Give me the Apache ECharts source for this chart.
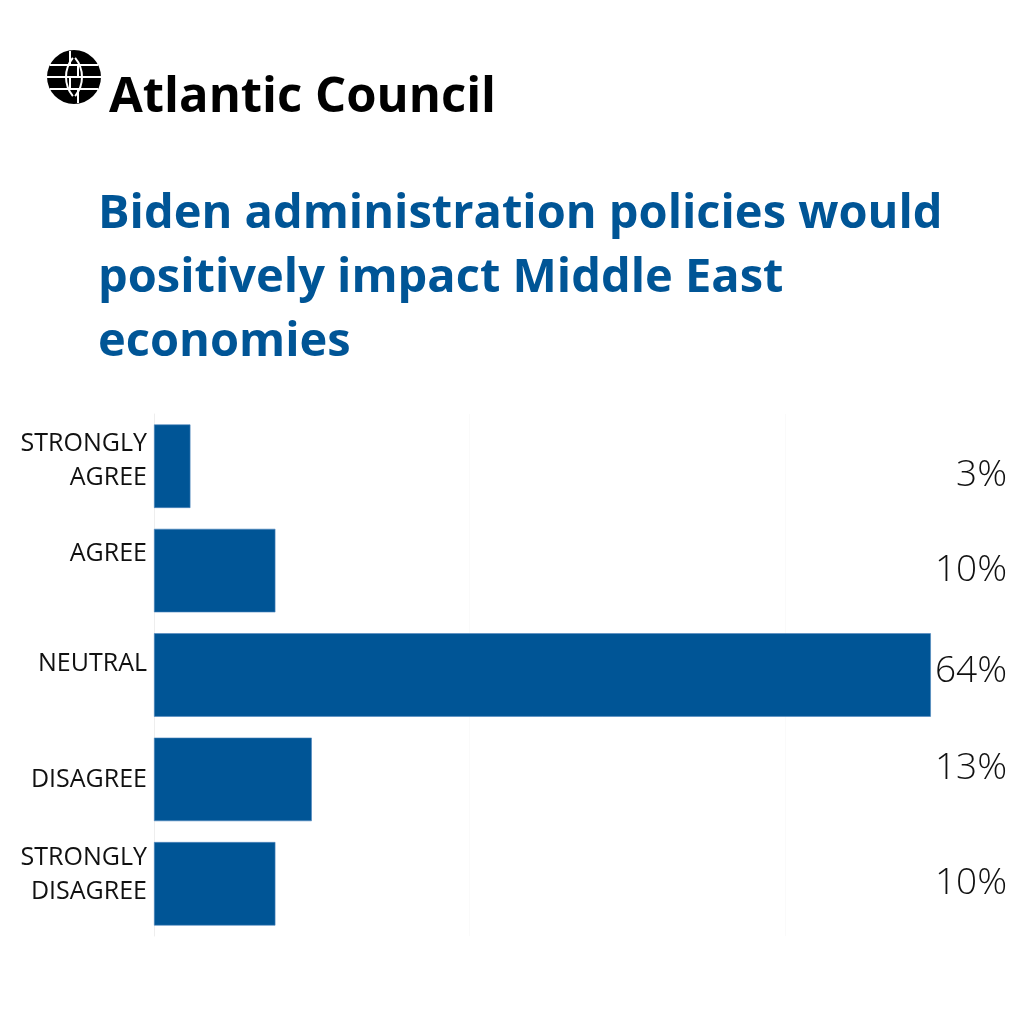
<!DOCTYPE html>
<html>
<head>
<meta charset="utf-8">
<script src="https://cdn.jsdelivr.net/npm/echarts@6/dist/echarts.min.js"></script>
<style>
html,body{margin:0;padding:0;background:#fff;}
#chart{width:1024px;height:1020px;}
</style>
</head>
<body>
<div id="chart"></div>
<script>
const categories = ['STRONGLY\nAGREE', 'AGREE', 'NEUTRAL', 'DISAGREE', 'STRONGLY\nDISAGREE'];
const values = [3, 10, 64, 13, 10];
const valueLabels = ['3%', '10%', '64%', '13%', '10%'];
const titleText = 'Biden administration policies would\npositively impact Middle East\neconomies';
const brandText = 'Atlantic Council';

const chart = echarts.init(document.getElementById('chart'));
const font = '"Open Sans", Lato, sans-serif';
const blue = '#005596';

// label nudges (style only): rich token names per row
const leftStyle = ['g10', 'up17', 'up11', '', 'g18'];
const rightStyle = ['dn9', '', 'up4', 'up11', ''];
function richSet(fs, weight, lh) {
  const base = { fontFamily: font, fontSize: fs, fontWeight: weight, color: '#111', lineHeight: lh };
  return {
    n: Object.assign({}, base),
    up17: Object.assign({ padding: [0, 0, 34, 0] }, base),
    up11: Object.assign({ padding: [0, 0, 22, 0] }, base),
    up4: Object.assign({ padding: [0, 0, 8, 0] }, base),
    dn9: Object.assign({ padding: [18, 0, 0, 0] }, base),
    g10: { fontSize: 1, lineHeight: 10 },
    g18: { fontSize: 1, lineHeight: 18 }
  };
}
function fmt(styles) {
  return (v, i) => {
    const s = styles[i];
    if (!s) return v;
    const lines = String(v).split('\n');
    if (s.charAt(0) === 'g') {
      return lines.map(ln => '{n|' + ln + '}').join('\n') + '\n{' + s + '| }';
    }
    return '{' + s + '|' + v + '}';
  };
}

const cx = 74, cy = 77, r = 27;
const globe = [
  { type: 'circle', shape: { cx: cx, cy: cy, r: r }, style: { fill: '#000' } },
  { type: 'line', shape: { x1: cx - 24, y1: cy - 12, x2: cx + 24, y2: cy - 12 }, style: { stroke: '#fff', lineWidth: 2 } },
  { type: 'line', shape: { x1: cx - 27, y1: cy, x2: cx + 27, y2: cy }, style: { stroke: '#fff', lineWidth: 2 } },
  { type: 'line', shape: { x1: cx - 24, y1: cy + 12, x2: cx + 24, y2: cy + 12 }, style: { stroke: '#fff', lineWidth: 2 } },
  { type: 'arc', shape: { cx: cx + 22, cy: cy, r: 30, startAngle: Math.PI * 0.78, endAngle: Math.PI * 1.22 }, style: { stroke: '#fff', lineWidth: 2, fill: null } },
  { type: 'arc', shape: { cx: cx - 22, cy: cy, r: 30, startAngle: -Math.PI * 0.22, endAngle: Math.PI * 0.22 }, style: { stroke: '#fff', lineWidth: 2, fill: null } },
  { type: 'line', shape: { x1: cx - 4, y1: cy - 26, x2: cx - 4, y2: cy - 12 }, style: { stroke: '#fff', lineWidth: 2 } },
  { type: 'line', shape: { x1: cx + 4, y1: cy + 12, x2: cx + 4, y2: cy + 26 }, style: { stroke: '#fff', lineWidth: 2 } },
  { type: 'line', shape: { x1: cx + 4, y1: cy - 12, x2: cx + 4, y2: cy }, style: { stroke: '#fff', lineWidth: 2 } },
  { type: 'line', shape: { x1: cx - 4, y1: cy, x2: cx - 4, y2: cy + 12 }, style: { stroke: '#fff', lineWidth: 2 } }
];

chart.setOption({
  backgroundColor: '#ffffff',
  animation: false,
  title: {
    text: titleText,
    left: 93,
    top: 178,
    textStyle: { fontFamily: font, fontWeight: 'bold', fontSize: 47, lineHeight: 64, color: blue }
  },
  graphic: globe.concat([
    { type: 'text', left: 109, top: 74, style: { text: brandText, fontFamily: font, fontWeight: 'bold', fontSize: 49, fill: '#000' } }
  ]),
  grid: { left: 154, right: 81, top: 414, height: 522, containLabel: false },
  xAxis: {
    type: 'value', min: 0, max: 65, interval: 26,
    axisLine: { show: false }, axisTick: { show: false }, axisLabel: { show: false },
    splitLine: { show: true, showMaxLine: false, lineStyle: { color: '#fafafa', width: 1 } }
  },
  yAxis: [
    {
      type: 'category', data: categories, inverse: true,
      axisLine: { show: true, lineStyle: { color: '#eeeeee', width: 1 } },
      axisTick: { show: false },
      axisLabel: {
        fontFamily: font, fontSize: 25, color: '#111', lineHeight: 34, align: 'right', margin: 7,
        formatter: fmt(leftStyle),
        rich: richSet(25, 'normal', 34)
      }
    },
    {
      type: 'category', data: valueLabels, inverse: true, position: 'right',
      axisLine: { show: false }, axisTick: { show: false },
      axisLabel: {
        fontFamily: font, fontWeight: 300, fontSize: 37, color: '#111', align: 'right', margin: 64,
        formatter: fmt(rightStyle),
        rich: richSet(37, 300, 44)
      }
    }
  ],
  series: [{
    type: 'bar',
    data: values,
    yAxisIndex: 0,
    barCategoryGap: '20%',
    itemStyle: { color: blue, borderColor: '#4f86bd', borderWidth: 0.6 }
  }]
});
</script>
</body>
</html>
